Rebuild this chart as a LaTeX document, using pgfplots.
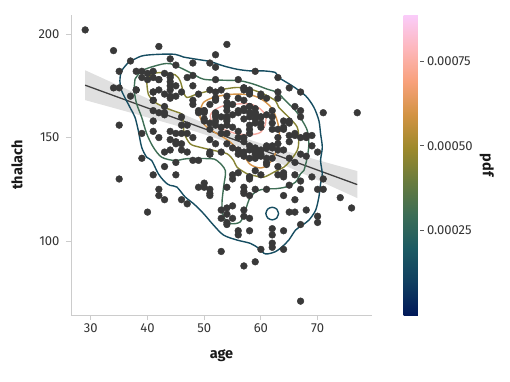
\documentclass[border=0pt]{standalone}
\usepackage{pgfplots}
\pgfplotsset{compat=1.18}
\usepackage{fontspec}
\setmainfont{Fira Sans}
\definecolor{spine}{HTML}{CCCCCC}
\definecolor{tlab}{HTML}{333333}
\definecolor{dot}{HTML}{393939}
\definecolor{cA}{RGB}{22,77,97}
\definecolor{cB}{RGB}{62,110,85}
\definecolor{cC}{RGB}{134,131,51}
\definecolor{cD}{RGB}{213,148,72}
\definecolor{cE}{RGB}{247,170,160}
\pgfplotsset{colormap={batlow}{rgb255=(1,25,89) rgb255=(16,63,96) rgb255=(28,90,98) rgb255=(60,109,86) rgb255=(104,123,62) rgb255=(157,137,43) rgb255=(210,147,67) rgb255=(248,161,123) rgb255=(253,183,188) rgb255=(250,204,250)}}
\pgfplotstableread{
age thalach
63 150
37 187
41 172
56 178
57 163
57 148
56 153
44 173
52 162
57 174
54 160
48 139
49 171
64 144
58 162
50 158
58 172
66 114
43 171
69 151
59 161
44 179
42 178
61 137
40 178
71 162
59 157
51 123
65 157
53 152
41 168
65 140
44 188
54 152
51 125
46 160
54 170
54 165
65 148
65 151
51 142
48 180
45 148
53 143
39 182
52 172
44 180
47 156
53 115
53 160
51 149
66 151
62 146
44 175
63 172
52 158
48 186
45 185
34 174
57 159
71 130
54 156
52 190
41 132
58 165
35 182
51 143
45 175
44 170
62 163
54 147
51 154
29 202
51 186
43 165
55 161
51 166
59 164
52 184
58 154
41 179
45 170
60 160
52 178
42 122
67 160
68 151
46 156
54 158
58 122
48 175
57 168
52 169
54 159
45 138
53 111
62 157
52 147
43 162
53 173
42 178
59 145
63 179
42 194
50 163
68 115
69 131
45 152
50 162
50 159
64 154
57 173
64 133
43 161
55 155
37 170
41 168
56 162
46 172
46 152
64 122
59 182
41 172
54 167
39 179
34 192
47 143
67 172
52 169
74 121
54 163
49 162
42 162
41 153
41 163
49 163
60 96
62 140
57 126
64 105
51 157
43 181
42 173
67 142
76 116
70 143
44 149
60 171
44 169
42 150
66 138
71 125
64 155
66 152
39 152
58 131
47 179
35 174
58 144
56 163
56 169
55 166
41 182
38 173
38 173
67 108
67 129
62 160
63 147
53 155
56 142
48 168
58 160
58 173
60 132
40 114
60 160
64 158
43 120
57 112
55 132
65 114
61 169
58 165
50 128
44 153
60 144
54 109
50 163
41 158
51 142
58 131
54 113
60 142
60 155
59 140
46 147
67 163
62 99
65 158
44 177
60 141
58 111
68 150
62 145
52 161
59 142
60 157
49 139
59 162
57 150
61 140
39 140
61 146
56 144
43 136
62 97
63 132
65 127
48 150
63 154
55 111
65 174
56 133
54 126
70 125
62 103
35 130
59 159
64 131
47 152
57 124
55 145
64 96
70 109
51 173
58 171
60 170
77 162
35 156
70 112
59 143
64 132
57 88
56 105
48 166
56 150
66 120
54 195
69 146
51 122
43 143
62 106
67 125
59 125
45 147
58 130
50 126
62 154
38 182
66 165
52 160
53 95
63 169
54 108
66 132
55 117
49 126
54 116
56 103
46 144
61 145
67 71
58 156
47 118
52 168
58 105
57 141
58 152
61 125
42 125
52 156
59 134
40 181
61 138
46 120
59 162
57 164
57 143
55 130
61 161
58 140
58 146
67 150
44 144
63 144
63 136
59 90
57 123
45 132
68 141
57 115
57 174
}\heart
\begin{document}
\begin{tikzpicture}
\path[use as bounding box] (-71pt,-66pt) rectangle (439pt,315pt);
\begin{axis}[
  at={(0pt,0pt)}, anchor=south west,
  scale only axis, width=301pt, height=300pt,
  xmin=26.5, xmax=79.6, ymin=64.3, ymax=209.2,
  axis x line*=bottom, axis y line*=left,
  axis line style={draw=spine, line width=0.9pt},
  xtick={30,40,50,60,70}, ytick={100,150,200},
  tick align=outside, major tick length=5pt,
  tick style={draw=spine, line width=0.9pt},
  /pgf/number format/assume math mode=true,
  tick label style={font=\fontsize{13}{15}\selectfont, text=tlab},
  yticklabel style={xshift=-3pt},
  xlabel={age}, ylabel={thalach},
  xlabel shift=10pt, ylabel shift=9pt,
  label style={font=\fontsize{14.5}{16}\selectfont\bfseries, text=black!90},
  colormap name=batlow,
  point meta min=0, point meta max=0.000887,
  colorbar,
  colorbar style={
    at={(parent axis.north east)}, anchor=north west, xshift=23pt,
    width=16pt, height=300pt,
    scaled y ticks=false,
    ytick={0.00025,0.0005,0.00075},
    ytick pos=right,
    yticklabel style={/pgf/number format/assume math mode=true, /pgf/number format/fixed, /pgf/number format/precision=5, /pgf/number format/fixed zerofill, font=\fontsize{13}{15}\selectfont, text=tlab},
    axis line style={draw=none},
    ytick style={draw=black!65, line width=0.9pt},
    major tick length=4pt, tick align=outside,
    ylabel={pdf}, ylabel shift=0pt,
    ylabel style={rotate=180, font=\fontsize{14.5}{16}\selectfont\bfseries, text=black!90},
  },
]
% regression CI band
\addplot[fill=black!12, draw=none] coordinates {
(29,182.51) (33,177.52) (37,172.55) (41,167.63) (45,162.79) (49,158.12) (53,153.76) (55,151.74) (57,149.83) (61,146.31) (65,143.04) (69,139.91) (73,136.85) (77,133.83)
(77,120.77) (73,125.75) (69,130.69) (65,135.56) (61,140.29) (57,144.77) (55,146.86) (53,148.84) (49,152.48) (45,155.81) (41,158.97) (37,162.05) (33,165.08) (29,168.09)
} -- cycle;
% scatter
\addplot[only marks, mark=*, mark size=3.4pt, color=dot, mark options={draw=none, fill=dot}] table[x=age, y=thalach] {\heart};
% regression line
\addplot[color=black!75, line width=1.3pt] coordinates {(29,175.3) (77,127.3)};
% KDE contours
\addplot[cA, line width=1.4pt, smooth] coordinates {
(36.60,186.2) (38.97,189.4) (41.91,190.2) (44.87,190.2) (46.34,188.9) (48.71,187.8) (51.06,186.7) (53.42,184.6) (55.79,183.0) (58.14,182.2) (60.50,182.2) (62.57,181.4) (63.15,179.0) (65.52,175.0) (67.88,170.2) (69.35,164.6) (70.23,158.2) (70.53,151.8) (70.83,145.3) (70.53,138.9) (70.83,132.5) (70.53,127.7) (70.23,121.3) (69.65,114.9) (68.46,110.1) (67.29,107.7) (66.11,105.3) (64.92,100.5) (63.75,97.3) (62.57,94.9) (60.80,93.8) (59.61,96.5) (58.14,98.9) (55.79,100.5) (53.42,102.9) (51.65,107.7) (49.88,113.3) (48.11,118.1) (46.64,121.3) (45.17,126.1) (43.98,126.9) (43.10,128.5) (41.91,132.5) (40.74,138.9) (39.86,140.5) (38.97,145.3) (38.37,153.4) (37.79,159.8) (36.90,164.6) (35.43,172.6) (35.13,177.4) (35.43,182.2) (36.60,186.2)
};
\addplot[cA, line width=1.4pt, smooth] coordinates {
(63.12,113.3) (62.79,115.46) (62,116.35) (61.21,115.46) (60.88,113.3) (61.21,111.14) (62,110.25) (62.79,111.14) (63.12,113.3)
};
\addplot[cB, line width=1.4pt, smooth] coordinates {
(37.79,178.2) (38.97,182.2) (41.33,184.6) (43.98,185.7) (47.52,181.4) (49.88,178.2) (53.42,177.7) (56.37,177.4) (58.73,175.8) (61.10,173.4) (62.87,171.8) (64.34,167.8) (66.11,163.0) (67.29,158.2) (68.18,153.4) (68.46,147.0) (68.18,140.5) (67.58,134.1) (66.99,132.5) (66.11,128.5) (64.34,126.1) (62.57,125.3) (61.68,125.3) (59.61,124.5) (58.14,121.3) (57.26,114.9) (56.37,109.3) (54.60,108.5) (53.42,111.7) (53.13,118.1) (53.42,126.1) (53.72,134.1) (52.25,138.9) (51.06,139.8) (46.94,139.8) (44.87,138.9) (42.51,140.5) (41.03,145.3) (39.86,151.8) (38.97,159.8) (38.09,166.2) (37.66,172.6) (37.79,178.2)
};
\addplot[cC, line width=1.4pt, smooth] coordinates {
(39.86,177.4) (40.74,180.6) (42.51,181.4) (44.87,180.3) (45.75,177.4) (46.28,172.6) (46.94,169.4) (48.71,171.0) (51.06,172.6) (53.42,173.4) (55.79,174.2) (58.14,173.4) (60.50,171.0) (62.57,167.8) (63.15,164.6) (64.92,159.8) (66.41,155.0) (66.69,148.6) (66.41,143.8) (65.22,139.0) (64.04,135.7) (62.57,133.7) (60.50,130.9) (58.73,131.7) (57.56,132.5) (55.79,135.7) (55.19,138.9) (54.02,142.2) (51.65,143.8) (49.29,145.3) (47.52,147.0) (46.46,152.4) (46.28,159.1) (46.05,161.4) (43.68,163.8) (41.33,167.0) (40.14,171.0) (39.86,177.4)
};
\addplot[cD, line width=1.4pt, smooth] coordinates {
(49.29,163.0) (49.88,167.0) (51.65,169.4) (54.02,170.7) (56.37,171.0) (58.73,170.2) (60.50,167.8) (61.98,163.9) (62.87,158.2) (63.27,151.9) (62.92,145.2) (62.21,140.4) (61.33,137.0) (59.91,135.3) (58.14,137.0) (56.96,141.3) (55.79,144.7) (54.25,148.6) (51.95,152.4) (50.18,155.8) (49.29,159.6) (49.29,163.0)
};
\addplot[cE, line width=1.4pt, smooth] coordinates {
(51.06,160.6) (51.65,163.0) (53.42,165.4) (55.79,166.2) (58.14,166.2) (59.91,163.8) (60.80,160.6) (60.80,156.6) (59.91,152.5) (58.14,151.4) (55.79,151.8) (54.02,153.4) (52.25,155.0) (51.36,157.4) (51.06,160.6)
};
\end{axis}
\end{tikzpicture}
\end{document}
